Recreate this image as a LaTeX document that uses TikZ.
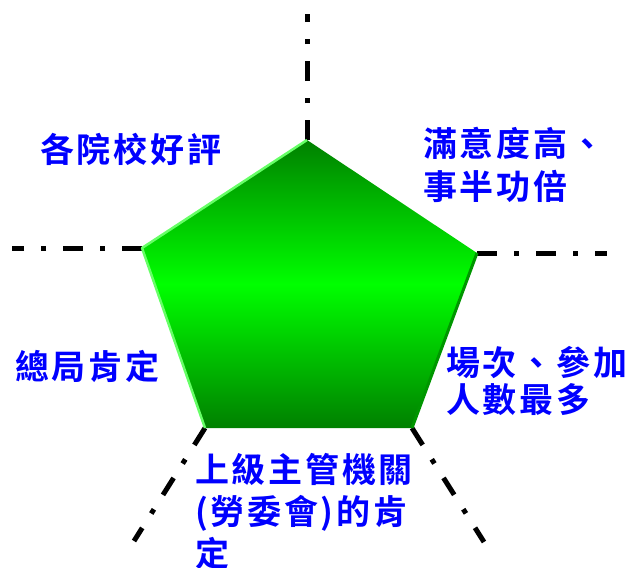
\documentclass[tikz,border=0pt]{standalone}
\usepackage{fontspec}
\newfontfamily\cjk[BoldFont={Noto Sans CJK TC Bold}, LetterSpace=8]{Noto Sans CJK TC}
\definecolor{darkgrn}{RGB}{0,128,0}
\definecolor{litegrn}{RGB}{102,255,102}
\definecolor{edgegrn}{RGB}{0,150,0}
\begin{document}
\begin{tikzpicture}[
  x=1pt, y=-1pt,
  ray/.style={line width=5pt, draw=black, dash pattern=on 20pt off 17pt on 5pt off 17pt},
  lbl/.style={text=blue, font=\cjk\bfseries\fontsize{34}{43}\selectfont, align=left, inner sep=0pt, anchor=base west}
]
  \useasboundingbox (0,0) rectangle (635,568);

  % vertices of the pentagon and ends of the rays
  \coordinate (p1) at (307,140);
  \coordinate (p2) at (477,253);
  \coordinate (p3) at (412,428);
  \coordinate (p4) at (205,428);
  \coordinate (p5) at (142,248);
  \coordinate (e1) at (307,14);
  \coordinate (e2) at (607,253);
  \coordinate (e3) at (484,542);
  \coordinate (e4) at (134,541);
  \coordinate (e5) at (12,248);

  % rays
  \draw[ray] (p1) -- (e1); \draw[ray] (p2) -- (e2); \draw[ray] (p3) -- (e3);
  \draw[ray] (p4) -- (e4); \draw[ray] (p5) -- (e5);

  % pentagon
  \shade[top color=darkgrn, bottom color=darkgrn, middle color=green]
    (p1) -- (p2) -- (p3) -- (p4) -- (p5) -- cycle;
  \draw[litegrn, line width=2.5pt, line join=round] (p4) -- (p5) -- (p1);
  \draw[edgegrn, line width=3pt] (p2) -- (p3);

  % labels (anchored at the baseline of the last line)
  \node[lbl] (t1) at (40,162) {各院校好評};
  \node[lbl] (t2) at (423,199) {滿意度高、\\事半功倍};
  \node[lbl] (t3) at (15,379) {總局肯定};
  \node[lbl, font=\cjk\bfseries\fontsize{34}{37}\selectfont] (t4) at (446,412) {場次、參加\\人數最多};
  \node[lbl, font=\cjk\bfseries\fontsize{34}{42}\selectfont] (t5) at (195,566) {上級主管機關\\(勞委會)的肯\\定};
\end{tikzpicture}
\end{document}
